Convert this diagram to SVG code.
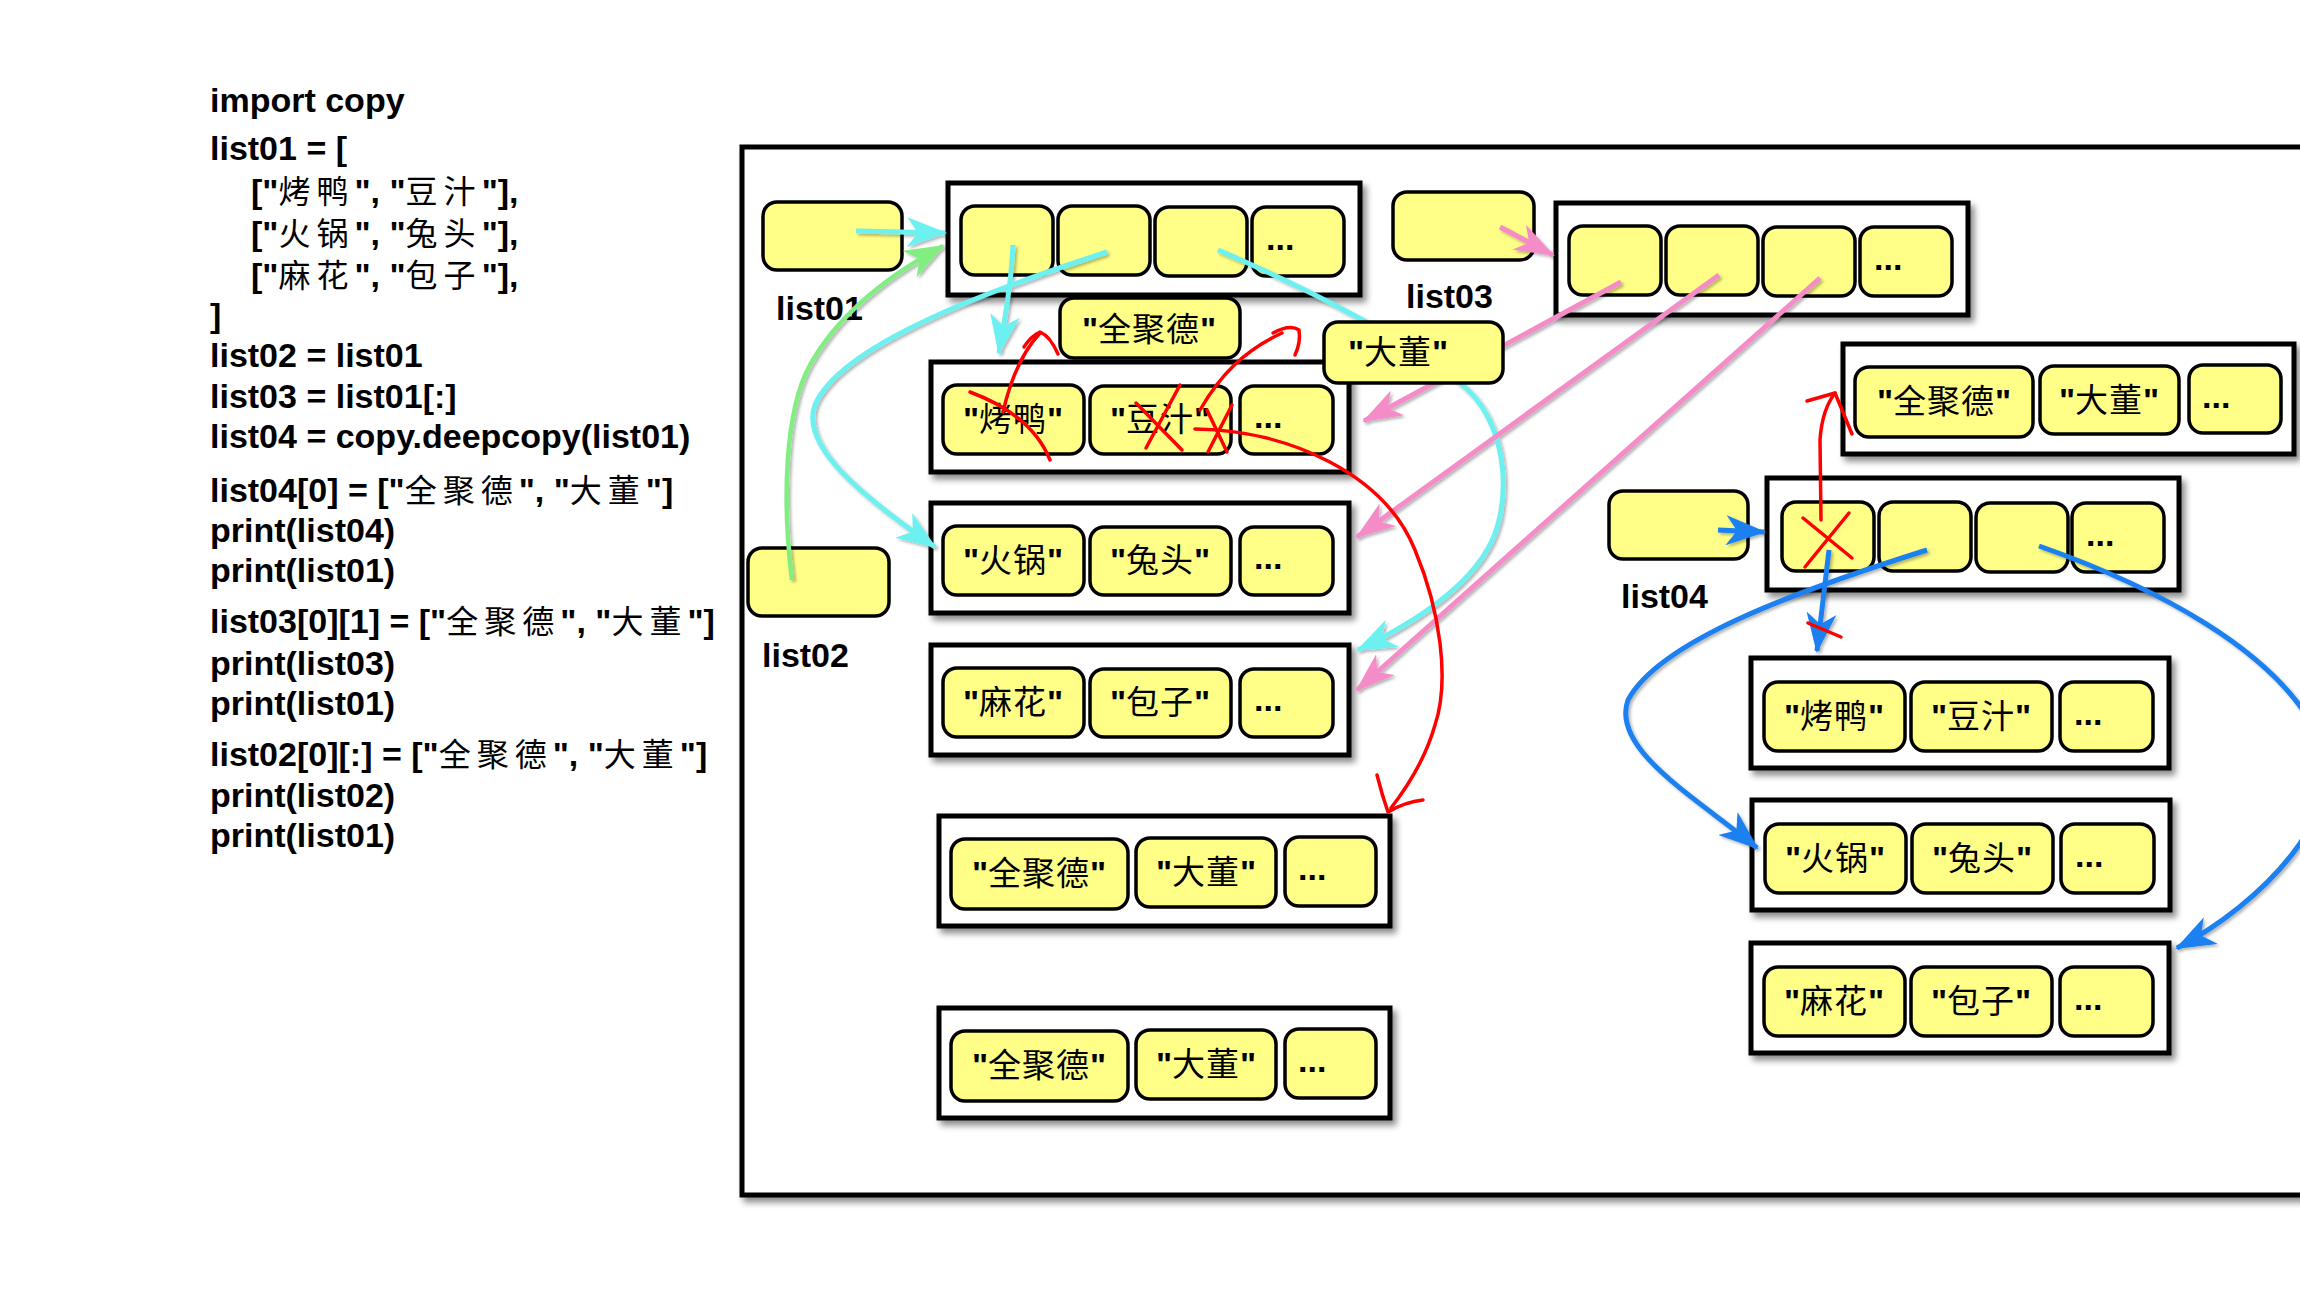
<svg xmlns="http://www.w3.org/2000/svg" width="2300" height="1300" viewBox="0 0 2300 1300">
<defs>
<style>
.code{font-family:"Liberation Sans","Noto Sans CJK SC",sans-serif;font-weight:bold;font-size:34px;fill:#000}
.c{font-family:"Noto Sans CJK SC",sans-serif;font-weight:normal;font-size:32px;letter-spacing:6px}
.box{fill:#fff;stroke:#000;stroke-width:5;filter:url(#sh)}
.cell{fill:#ffff88;stroke:#000;stroke-width:3.5}
.ct{font-family:"Liberation Sans","Noto Sans CJK SC",sans-serif;font-weight:bold;font-size:34px;text-anchor:middle}
.cc{font-family:"Noto Sans CJK SC",sans-serif;font-weight:normal;font-size:33px;letter-spacing:1px}
.dots{font-family:"Liberation Sans",sans-serif;font-weight:bold;font-size:34px}
.cy{fill:none;stroke:#6cf0f0;stroke-width:5}
.gr{fill:none;stroke:#82ee82;stroke-width:4.5}
.pk{fill:none;stroke:#f48cc8;stroke-width:5}
.bl{fill:none;stroke:#1a80f0;stroke-width:5}
.rd{fill:none;stroke:#ff0000;stroke-width:3.5;stroke-linecap:round;stroke-linejoin:round}
</style>
<filter id="sh" x="-5%" y="-5%" width="115%" height="125%"><feDropShadow dx="4" dy="5" stdDeviation="3" flood-color="#000" flood-opacity="0.45"/></filter>
<filter id="ls" x="-10%" y="-10%" width="120%" height="120%"><feDropShadow dx="2" dy="2" stdDeviation="1.5" flood-color="#000" flood-opacity="0.3"/></filter>
<marker id="aC" markerUnits="userSpaceOnUse" markerWidth="40" markerHeight="30" viewBox="0 0 40 30" refX="38" refY="15" orient="auto"><path d="M0,0 L40,15 L0,30 L11,15 z" fill="#6cf0f0"/></marker>
<marker id="aG" markerUnits="userSpaceOnUse" markerWidth="40" markerHeight="30" viewBox="0 0 40 30" refX="38" refY="15" orient="auto"><path d="M0,0 L40,15 L0,30 L11,15 z" fill="#82ee82"/></marker>
<marker id="aP" markerUnits="userSpaceOnUse" markerWidth="40" markerHeight="28" viewBox="0 0 40 28" refX="38" refY="14" orient="auto"><path d="M0,0 L40,14 L0,28 L11,14 z" fill="#f48cc8"/></marker>
<marker id="aB" markerUnits="userSpaceOnUse" markerWidth="40" markerHeight="30" viewBox="0 0 40 30" refX="38" refY="15" orient="auto"><path d="M0,0 L40,15 L0,30 L11,15 z" fill="#1a80f0"/></marker>
</defs>
<rect width="2300" height="1300" fill="#fff"/>

<g id="code">
<text class="code" x="210" y="112">import copy</text>
<text class="code" x="210" y="160">list01 = [</text>
<text class="code" x="251" y="203">["<tspan class="c">烤鸭</tspan>", "<tspan class="c">豆汁</tspan>"],</text>
<text class="code" x="251" y="245">["<tspan class="c">火锅</tspan>", "<tspan class="c">兔头</tspan>"],</text>
<text class="code" x="251" y="287">["<tspan class="c">麻花</tspan>", "<tspan class="c">包子</tspan>"],</text>
<text class="code" x="210" y="327">]</text>
<text class="code" x="210" y="367">list02 = list01</text>
<text class="code" x="210" y="408">list03 = list01[:]</text>
<text class="code" x="210" y="448">list04 = copy.deepcopy(list01)</text>
<text class="code" x="210" y="502">list04[0] = ["<tspan class="c">全聚德</tspan>", "<tspan class="c">大董</tspan>"]</text>
<text class="code" x="210" y="542">print(list04)</text>
<text class="code" x="210" y="582">print(list01)</text>
<text class="code" x="210" y="633">list03[0][1] = ["<tspan class="c">全聚德</tspan>", "<tspan class="c">大董</tspan>"]</text>
<text class="code" x="210" y="675">print(list03)</text>
<text class="code" x="210" y="715">print(list01)</text>
<text class="code" x="210" y="766">list02[0][:] = ["<tspan class="c">全聚德</tspan>", "<tspan class="c">大董</tspan>"]</text>
<text class="code" x="210" y="807">print(list02)</text>
<text class="code" x="210" y="847">print(list01)</text>
</g>

<g id="frame"><rect class="box" x="742" y="147" width="1620" height="1048"/></g>

<g id="list01-var"><rect class="cell" x="763" y="202" width="139" height="68" rx="14"/><text class="code" x="776" y="320">list01</text></g>
<g id="list02-var"><rect class="cell" x="748" y="548" width="141" height="68" rx="14"/><text class="code" x="762" y="667">list02</text></g>
<g id="list03-var"><rect class="cell" x="1393" y="192" width="141" height="68" rx="14"/><text class="code" x="1406" y="308">list03</text></g>
<g id="list04-var"><rect class="cell" x="1609" y="491" width="139" height="68" rx="14"/><text class="code" x="1621" y="608">list04</text></g>

<g id="list01-obj">
<rect class="box" x="948" y="183" width="412" height="112"/>
<rect class="cell" x="961" y="206" width="92" height="69" rx="14"/>
<rect class="cell" x="1058" y="206" width="92" height="69" rx="14"/>
<rect class="cell" x="1155" y="207" width="92" height="69" rx="14"/>
<rect class="cell" x="1252" y="207" width="92" height="69" rx="14"/>
<text class="dots" x="1266" y="250">...</text>
</g>
<g id="list03-obj">
<rect class="box" x="1556" y="203" width="412" height="112"/>
<rect class="cell" x="1569" y="226" width="92" height="69" rx="14"/>
<rect class="cell" x="1666" y="226" width="92" height="69" rx="14"/>
<rect class="cell" x="1763" y="227" width="92" height="69" rx="14"/>
<rect class="cell" x="1860" y="227" width="92" height="69" rx="14"/>
<text class="dots" x="1874" y="270">...</text>
</g>
<g id="list04-obj">
<rect class="box" x="1767" y="478" width="412" height="112"/>
<rect class="cell" x="1782" y="502" width="92" height="69" rx="14"/>
<rect class="cell" x="1879" y="502" width="92" height="69" rx="14"/>
<rect class="cell" x="1976" y="503" width="92" height="69" rx="14"/>
<rect class="cell" x="2072" y="503" width="92" height="69" rx="14"/>
<text class="dots" x="2086" y="546">...</text>
</g>

<g id="row-kaoya">
<rect class="box" x="931" y="362" width="418" height="110"/>
<rect class="cell" x="943" y="385" width="141" height="69" rx="14"/><text class="ct" x="1013" y="431">"<tspan class="cc">烤鸭</tspan>"</text>
<rect class="cell" x="1090" y="386" width="141" height="68" rx="14"/><text class="ct" x="1160" y="431">"<tspan class="cc">豆汁</tspan>"</text>
<rect class="cell" x="1240" y="386" width="93" height="68" rx="14"/><text class="dots" x="1254" y="428">...</text>
</g>
<g id="row-huoguo">
<rect class="box" x="931" y="503" width="418" height="110"/>
<rect class="cell" x="943" y="526" width="141" height="69" rx="14"/><text class="ct" x="1013" y="572">"<tspan class="cc">火锅</tspan>"</text>
<rect class="cell" x="1090" y="527" width="141" height="68" rx="14"/><text class="ct" x="1160" y="572">"<tspan class="cc">兔头</tspan>"</text>
<rect class="cell" x="1240" y="527" width="93" height="68" rx="14"/><text class="dots" x="1254" y="569">...</text>
</g>
<g id="row-mahua">
<rect class="box" x="931" y="645" width="418" height="110"/>
<rect class="cell" x="943" y="668" width="141" height="69" rx="14"/><text class="ct" x="1013" y="714">"<tspan class="cc">麻花</tspan>"</text>
<rect class="cell" x="1090" y="669" width="141" height="68" rx="14"/><text class="ct" x="1160" y="714">"<tspan class="cc">包子</tspan>"</text>
<rect class="cell" x="1240" y="669" width="93" height="68" rx="14"/><text class="dots" x="1254" y="711">...</text>
</g>
<g id="row-new1">
<rect class="box" x="939" y="816" width="451" height="110"/>
<rect class="cell" x="951" y="839" width="177" height="70" rx="14"/><text class="ct" x="1039" y="885">"<tspan class="cc">全聚德</tspan>"</text>
<rect class="cell" x="1136" y="838" width="140" height="69" rx="14"/><text class="ct" x="1206" y="884">"<tspan class="cc">大董</tspan>"</text>
<rect class="cell" x="1285" y="837" width="91" height="69" rx="14"/><text class="dots" x="1298" y="880">...</text>
</g>
<g id="row-new2">
<rect class="box" x="939" y="1008" width="451" height="110"/>
<rect class="cell" x="951" y="1031" width="177" height="70" rx="14"/><text class="ct" x="1039" y="1077">"<tspan class="cc">全聚德</tspan>"</text>
<rect class="cell" x="1136" y="1030" width="140" height="69" rx="14"/><text class="ct" x="1206" y="1076">"<tspan class="cc">大董</tspan>"</text>
<rect class="cell" x="1285" y="1029" width="91" height="69" rx="14"/><text class="dots" x="1298" y="1072">...</text>
</g>
<g id="row-new4">
<rect class="box" x="1843" y="344" width="451" height="110"/>
<rect class="cell" x="1855" y="367" width="178" height="70" rx="14"/><text class="ct" x="1944" y="413">"<tspan class="cc">全聚德</tspan>"</text>
<rect class="cell" x="2040" y="366" width="139" height="68" rx="14"/><text class="ct" x="2109" y="412">"<tspan class="cc">大董</tspan>"</text>
<rect class="cell" x="2189" y="365" width="92" height="68" rx="14"/><text class="dots" x="2202" y="408">...</text>
</g>
<g id="row4-kaoya">
<rect class="box" x="1751" y="658" width="418" height="110"/>
<rect class="cell" x="1764" y="682" width="141" height="69" rx="14"/><text class="ct" x="1834" y="728">"<tspan class="cc">烤鸭</tspan>"</text>
<rect class="cell" x="1911" y="682" width="141" height="69" rx="14"/><text class="ct" x="1981" y="728">"<tspan class="cc">豆汁</tspan>"</text>
<rect class="cell" x="2060" y="682" width="93" height="69" rx="14"/><text class="dots" x="2074" y="725">...</text>
</g>
<g id="row4-huoguo">
<rect class="box" x="1752" y="800" width="418" height="110"/>
<rect class="cell" x="1765" y="824" width="141" height="69" rx="14"/><text class="ct" x="1835" y="870">"<tspan class="cc">火锅</tspan>"</text>
<rect class="cell" x="1912" y="824" width="141" height="69" rx="14"/><text class="ct" x="1982" y="870">"<tspan class="cc">兔头</tspan>"</text>
<rect class="cell" x="2061" y="824" width="93" height="69" rx="14"/><text class="dots" x="2075" y="867">...</text>
</g>
<g id="row4-mahua">
<rect class="box" x="1751" y="943" width="418" height="110"/>
<rect class="cell" x="1764" y="967" width="141" height="69" rx="14"/><text class="ct" x="1834" y="1013">"<tspan class="cc">麻花</tspan>"</text>
<rect class="cell" x="1911" y="967" width="141" height="69" rx="14"/><text class="ct" x="1981" y="1013">"<tspan class="cc">包子</tspan>"</text>
<rect class="cell" x="2060" y="967" width="93" height="69" rx="14"/><text class="dots" x="2074" y="1010">...</text>
</g>

<g id="connectors">
<g filter="url(#ls)">
<path class="cy" d="M856,231 L945,233" marker-end="url(#aC)"/>
<path class="cy" d="M1013,245 C1011,290 1004,322 999,353" marker-end="url(#aC)"/>
<path class="cy" d="M1107,252 C990,290 840,345 815,405 C800,445 860,495 935,547" marker-end="url(#aC)"/>
<path class="cy" d="M1218,250 C1300,285 1420,345 1468,390 C1510,430 1512,510 1487,550 C1465,588 1420,620 1358,650" marker-end="url(#aC)"/>
<path class="gr" d="M792,580 C782,500 785,410 810,365 C835,320 880,280 943,246" marker-end="url(#aG)"/>
<path class="pk" d="M1500,227 L1553,255" marker-end="url(#aP)"/>
<path class="pk" d="M1621,282 L1364,421" marker-end="url(#aP)"/>
<path class="pk" d="M1719,275 L1357,537" marker-end="url(#aP)"/>
<path class="pk" d="M1820,278 L1357,690" marker-end="url(#aP)"/>
<path class="bl" d="M1718,530 L1764,532" marker-end="url(#aB)"/>
<path class="bl" d="M1829,550 L1817,651" marker-end="url(#aB)"/>
<path class="bl" d="M1927,550 C1800,590 1660,640 1628,700 C1610,750 1700,800 1757,848" marker-end="url(#aB)"/>
<path class="bl" d="M2039,546 C2150,585 2280,650 2320,740 C2352,812 2260,905 2177,948" marker-end="url(#aB)"/>
</g>
<path class="rd" d="M970,392 Q1032,415 1050,460"/>
<path class="rd" d="M1003,412 Q1015,360 1040,333"/>
<path class="rd" d="M1024,347 Q1031,336 1040,332 Q1050,336 1058,354"/>
<path class="rd" d="M1136,403 L1182,450 M1180,385 L1146,448"/>
<path class="rd" d="M1207,410 L1227,452 M1232,405 L1208,452"/>
<path class="rd" d="M1200,410 C1220,375 1245,350 1282,333"/>
<path class="rd" d="M1273,333 Q1290,324 1299,330 Q1301,342 1295,355"/>
<path class="rd" d="M1195,429 C1290,430 1385,475 1415,550 C1440,610 1450,680 1435,725 C1425,760 1405,790 1391,808"/>
<path class="rd" d="M1377,775 Q1382,795 1388,812 Q1405,802 1423,800"/>
<path class="rd" d="M1803,518 L1852,558 M1849,513 L1805,567"/>
<path class="rd" d="M1821,520 L1820,440 Q1822,410 1835,393"/>
<path class="rd" d="M1807,401 L1835,393 L1852,434"/>
<path class="rd" d="M1808,623 L1841,637"/>
</g>

<g id="val-quanjude"><rect class="cell" x="1060" y="298" width="180" height="60" rx="14"/><text class="ct" x="1149" y="341">"<tspan class="cc">全聚德</tspan>"</text></g>
<g id="val-dadong"><rect class="cell" x="1324" y="322" width="179" height="61" rx="14"/><text class="ct" x="1398" y="364">"<tspan class="cc">大董</tspan>"</text></g>
</svg>
